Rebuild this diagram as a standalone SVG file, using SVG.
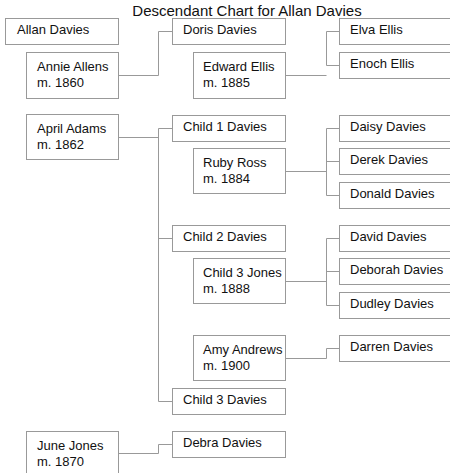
<svg xmlns="http://www.w3.org/2000/svg" width="450" height="473" viewBox="0 0 450 473">
<style>
.b{fill:#fff;stroke:#999;stroke-width:1}
.t{font-family:"Liberation Sans",Arial,sans-serif;font-size:13px;fill:#111}
.c{fill:none;stroke:#999;stroke-width:1}
.title{font-family:"Liberation Sans",Arial,sans-serif;font-size:15px;fill:#111}
</style>
<rect width="450" height="473" fill="#fff"/>
<text class="title" x="247" y="16" text-anchor="middle">Descendant Chart for Allan Davies</text>
<g id="connectors">
<path class="c" d="M118,75.5H158.5V31.5H172"/>
<path class="c" d="M286,75.5H326.5M326.5,31.5V65.5M326.5,31.5H339M326.5,65.5H339"/>
<path class="c" d="M118,137.5H158.5M158.5,128.5V401.5M158.5,128.5H172M158.5,238.5H172M158.5,401.5H172"/>
<path class="c" d="M286,171.5H326.5M326.5,128.5V195.5M326.5,128.5H339M326.5,161.5H339M326.5,195.5H339"/>
<path class="c" d="M286,281.5H326.5M326.5,238.5V305.5M326.5,238.5H339M326.5,271.5H339M326.5,305.5H339"/>
<path class="c" d="M286,358.5H326.5V348.5H339"/>
<path class="c" d="M118,453.5H158.5V444.5H172"/>
</g>
<g id="allan"><rect class="b" x="5.5" y="18.5" width="113" height="26"/><text class="t" x="17" y="34">Allan Davies</text></g>
<g id="annie"><rect class="b" x="26.5" y="52.5" width="92" height="46"/><text class="t" x="37" y="71">Annie Allens</text><text class="t" x="37" y="87">m. 1860</text></g>
<g id="doris"><rect class="b" x="172.5" y="18.5" width="113" height="26"/><text class="t" x="183" y="34">Doris Davies</text></g>
<g id="edward"><rect class="b" x="193.5" y="52.5" width="92" height="46"/><text class="t" x="203" y="71">Edward Ellis</text><text class="t" x="203" y="87">m. 1885</text></g>
<g id="elva"><rect class="b" x="339.5" y="18.5" width="130" height="26"/><text class="t" x="350" y="34">Elva Ellis</text></g>
<g id="enoch"><rect class="b" x="339.5" y="52.5" width="130" height="26"/><text class="t" x="350" y="68">Enoch Ellis</text></g>
<g id="april"><rect class="b" x="26.5" y="114.5" width="92" height="45"/><text class="t" x="37" y="133">April Adams</text><text class="t" x="37" y="149">m. 1862</text></g>
<g id="child1"><rect class="b" x="172.5" y="115.5" width="113" height="26"/><text class="t" x="183" y="131">Child 1 Davies</text></g>
<g id="ruby"><rect class="b" x="193.5" y="148.5" width="92" height="45"/><text class="t" x="203" y="167">Ruby Ross</text><text class="t" x="203" y="183">m. 1884</text></g>
<g id="daisy"><rect class="b" x="339.5" y="115.5" width="130" height="26"/><text class="t" x="350" y="131">Daisy Davies</text></g>
<g id="derek"><rect class="b" x="339.5" y="148.5" width="130" height="26"/><text class="t" x="350" y="164">Derek Davies</text></g>
<g id="donald"><rect class="b" x="339.5" y="182.5" width="130" height="26"/><text class="t" x="350" y="198">Donald Davies</text></g>
<g id="child2"><rect class="b" x="172.5" y="225.5" width="113" height="26"/><text class="t" x="183" y="241">Child 2 Davies</text></g>
<g id="child3jones"><rect class="b" x="193.5" y="258.5" width="92" height="45"/><text class="t" x="203" y="277">Child 3 Jones</text><text class="t" x="203" y="293">m. 1888</text></g>
<g id="david"><rect class="b" x="339.5" y="225.5" width="130" height="26"/><text class="t" x="350" y="241">David Davies</text></g>
<g id="deborah"><rect class="b" x="339.5" y="258.5" width="130" height="26"/><text class="t" x="350" y="274">Deborah Davies</text></g>
<g id="dudley"><rect class="b" x="339.5" y="292.5" width="130" height="26"/><text class="t" x="350" y="308">Dudley Davies</text></g>
<g id="amy"><rect class="b" x="193.5" y="335.5" width="92" height="45"/><text class="t" x="203" y="354">Amy Andrews</text><text class="t" x="203" y="370">m. 1900</text></g>
<g id="darren"><rect class="b" x="339.5" y="335.5" width="130" height="26"/><text class="t" x="350" y="351">Darren Davies</text></g>
<g id="child3davies"><rect class="b" x="172.5" y="388.5" width="113" height="26"/><text class="t" x="183" y="404">Child 3 Davies</text></g>
<g id="june"><rect class="b" x="26.5" y="431.5" width="92" height="46"/><text class="t" x="37" y="450">June Jones</text><text class="t" x="37" y="466">m. 1870</text></g>
<g id="debra"><rect class="b" x="172.5" y="431.5" width="113" height="26"/><text class="t" x="183" y="447">Debra Davies</text></g>
</svg>
